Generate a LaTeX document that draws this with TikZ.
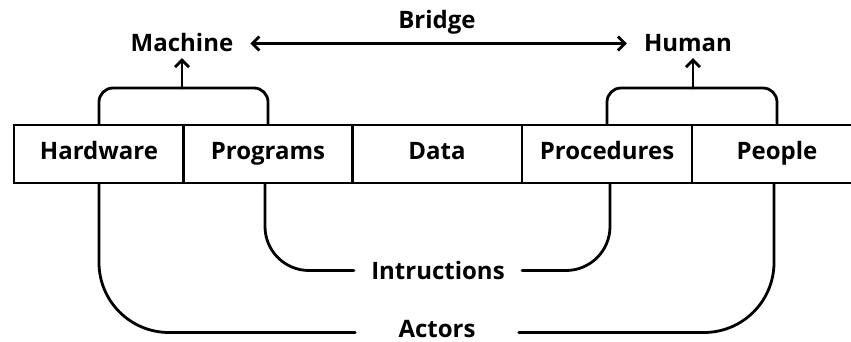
\documentclass[tikz,border=0pt]{standalone}
\usepackage{fontspec}
\setmainfont{Open Sans}
\usetikzlibrary{arrows.meta}
\begin{document}
\begin{tikzpicture}[x=1pt,y=-1pt,
  lw/.style={line width=2.8pt},
  txt/.style={font=\fontsize{24}{28}\selectfont\bfseries},
  cell/.style={draw,lw,txt,minimum width=170pt,minimum height=58pt,inner sep=0pt,
    text height=17pt,text depth=5pt},
  lbl/.style={txt,inner sep=0pt,text height=17pt,text depth=0pt,anchor=base},
  conn/.style={lw,line cap=round},
  tip/.tip={Straight Barb[length=7pt,width=14pt,line width=2.8pt]},
  arr/.style={conn,-tip}]
\useasboundingbox (0,0) rectangle (851,342);
% the five components in one row
\node[cell] (hw)   at (99,154)  {Hardware};
\node[cell] (prog) at (268,154) {Programs};
\node[cell] (data) at (437,154) {Data};
\node[cell] (proc) at (607,154) {Procedures};
\node[cell] (ppl)  at (777,154) {People};
% labels
\node[lbl,inner xsep=17pt] (mach) at (182,52) {Machine};
\node[lbl,inner xsep=17pt] (hum)  at (688,52) {Human};
\node[lbl] (brg)  at (437,29) {Bridge};
\node[lbl,inner xsep=17pt] (ins) at (438,279) {Intructions};
\node[lbl,inner xsep=43pt] (act) at (437,337) {Actors};
% bridge between machine and human
\draw[conn,tip-tip] (mach.east) -- (hum.west);
% brackets above
\coordinate (mtop) at (182,88);
\coordinate (htop) at (693,88);
\draw[conn,rounded corners=14pt] (hw.north) |- (mtop) -| (prog.north);
\draw[arr] (mtop) -- ([yshift=-6pt]mach.south);
\draw[conn,rounded corners=14pt] (proc.north) |- (htop) -| (ppl.north);
\draw[arr] (htop) -- ([xshift=5pt,yshift=-6pt]hum.south);
% connectors below
\draw[conn,rounded corners=44pt] ([xshift=-3pt]prog.south) |- (ins.west);
\draw[conn,rounded corners=44pt] ([xshift=3pt]proc.south) |- (ins.east);
\draw[conn,rounded corners=70pt] (hw.south) |- ([yshift=-4pt]act.west);
\draw[conn,rounded corners=70pt] ([xshift=-3pt]ppl.south) |- ([yshift=-4pt]act.east);
\end{tikzpicture}
\end{document}
